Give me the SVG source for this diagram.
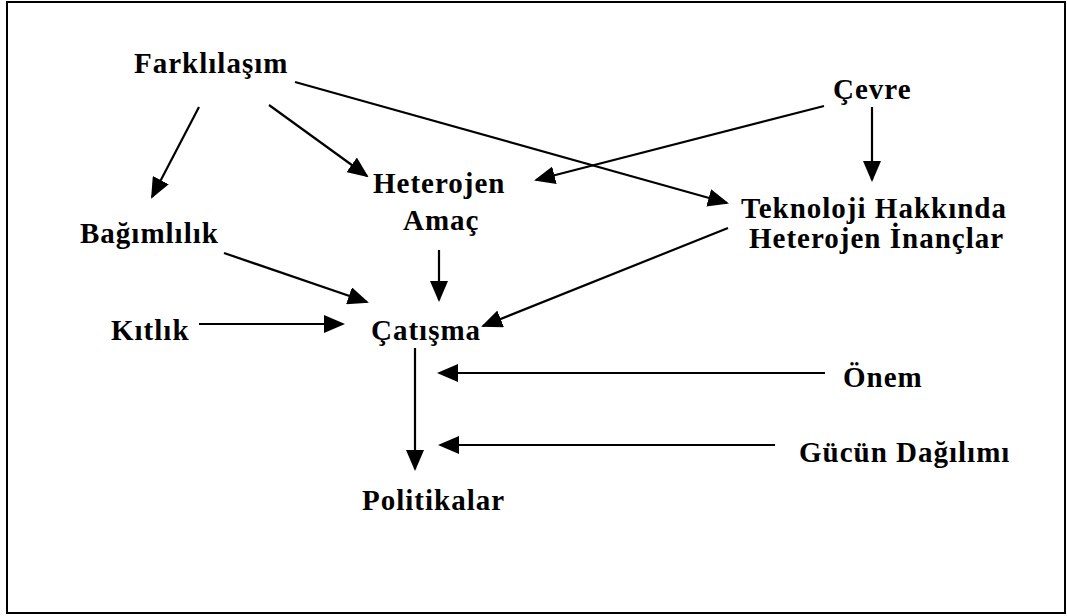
<svg xmlns="http://www.w3.org/2000/svg" width="1067" height="616" viewBox="0 0 1067 616">
  <style>
    .lbl { font-family: "Liberation Serif", "Times New Roman", serif; font-weight: bold; font-size: 29px; letter-spacing: 1px; fill: #000; }
    .edge { stroke: #000; stroke-width: 2.2; fill: none; marker-end: url(#ah); }
  </style>
  <defs>
    <marker id="ah" viewBox="0 0 21 18" refX="19" refY="9" markerWidth="21" markerHeight="18" orient="auto" markerUnits="userSpaceOnUse">
      <path d="M0,0 L21,9 L0,18 Z" fill="#000"/>
    </marker>
  </defs>

  <rect x="7" y="2" width="1058" height="611" fill="#fff" stroke="#000" stroke-width="2"/>

  <g id="connectors">
    <line class="edge" x1="199" y1="107" x2="152" y2="197"/>
    <line class="edge" x1="269" y1="105" x2="367" y2="176"/>
    <line class="edge" x1="295" y1="82" x2="727" y2="203"/>
    <line class="edge" x1="824" y1="106" x2="536" y2="180"/>
    <line class="edge" x1="872" y1="107" x2="872" y2="180"/>
    <line class="edge" x1="728" y1="228" x2="483" y2="326"/>
    <line class="edge" x1="224" y1="253" x2="367" y2="302"/>
    <line class="edge" x1="439" y1="250" x2="439" y2="300"/>
    <line class="edge" x1="199" y1="324" x2="343" y2="324"/>
    <line class="edge" x1="415" y1="348" x2="415" y2="469"/>
    <line class="edge" x1="825" y1="373" x2="439" y2="373"/>
    <line class="edge" x1="775" y1="445" x2="440" y2="445"/>
  </g>

  <g id="farklilasim"><text class="lbl" x="134" y="73">Farklılaşım</text></g>
  <g id="cevre"><text class="lbl" x="833" y="99">Çevre</text></g>
  <g id="heterojen-amac">
    <text class="lbl" x="373" y="193">Heterojen</text>
    <text class="lbl" x="403" y="230">Amaç</text>
  </g>
  <g id="teknoloji">
    <text class="lbl" x="741" y="218">Teknoloji Hakkında</text>
    <text class="lbl" x="749" y="248">Heterojen İnançlar</text>
  </g>
  <g id="bagimlilik"><text class="lbl" x="80" y="243">Bağımlılık</text></g>
  <g id="kitlik"><text class="lbl" x="111" y="340">Kıtlık</text></g>
  <g id="catisma"><text class="lbl" x="371" y="340">Çatışma</text></g>
  <g id="onem"><text class="lbl" x="843" y="387">Önem</text></g>
  <g id="gucun-dagilimi"><text class="lbl" x="799" y="462">Gücün Dağılımı</text></g>
  <g id="politikalar"><text class="lbl" x="362" y="510">Politikalar</text></g>
</svg>
